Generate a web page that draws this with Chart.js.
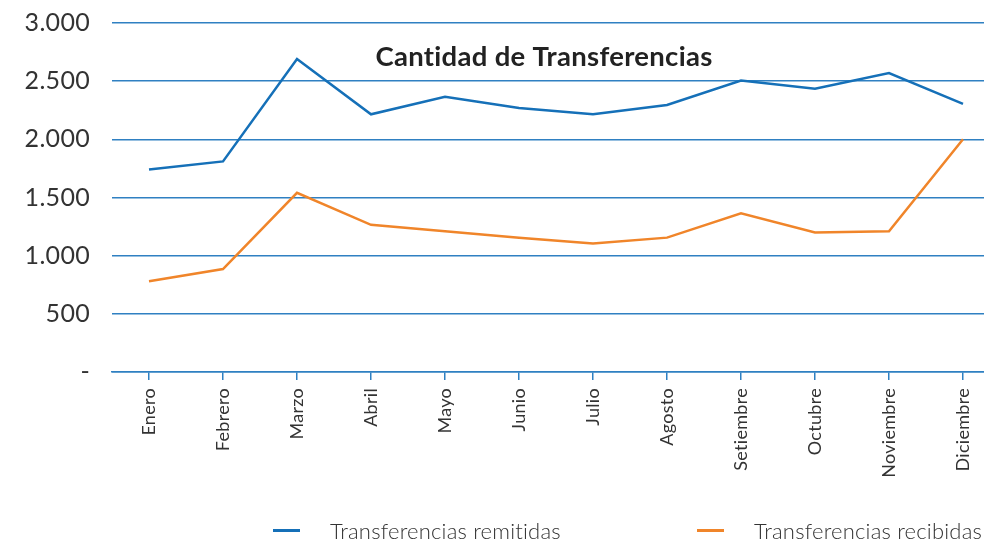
<!DOCTYPE html>
<html>
<head>
<meta charset="utf-8">
<script src="https://cdn.jsdelivr.net/npm/chart.js@4/dist/chart.umd.min.js"></script>
<style>
  html, body { margin: 0; padding: 0; background: #fff; overflow: hidden; }
  #wrap { position: relative; width: 1000px; height: 546px; }
  .legend { position: absolute; top: 517px; font: 300 22px Lato, sans-serif; color: #333; display: flex; align-items: center; font-variant-ligatures: none; letter-spacing: 0.2px; }
  .legend i { display: inline-block; width: 27px; height: 3px; margin-right: 30px; }
</style>
</head>
<body>
<div id="wrap">
  <canvas id="chart" width="1000" height="546"></canvas>
  <div class="legend" id="lg0" style="left:273px"></div>
  <div class="legend" id="lg1" style="left:697px"></div>
</div>
<script>
const TITLE = 'Cantidad de Transferencias'
const MONTHS = ['Enero', 'Febrero', 'Marzo', 'Abril', 'Mayo', 'Junio', 'Julio', 'Agosto', 'Setiembre', 'Octubre', 'Noviembre', 'Diciembre']
const SERIES_NAMES = ['Transferencias remitidas', 'Transferencias recibidas']
const remitidas = [1740, 1810, 2690, 2215, 2365, 2270, 2215, 2295, 2505, 2435, 2570, 2305]
const recibidas = [780, 885, 1540, 1265, 1210, 1155, 1105, 1155, 1365, 1200, 1210, 2000]
const Y_TICKS = [0, 500, 1000, 1500, 2000, 2500, 3000]
const Y_LABELS = ['-', '500', '1.000', '1.500', '2.000', '2.500', '3.000']
const COLORS = ['#1570b8', '#f0852a']
const GRID = '#2f80c2'

// title sits inside the plot area, so draw it by hand
// (letterSpacing also stops Lato from joining "ti")
const titlePlugin = {
  id: 'innerTitle',
  beforeDraw(chart) {
    chart.ctx.letterSpacing = '0.3px'
  },
  afterDraw(chart) {
    const ctx = chart.ctx
    ctx.save()
    ctx.font = 'bold 27.5px Lato, sans-serif'
    ctx.letterSpacing = '0.3px'
    ctx.fillStyle = '#222'
    ctx.textAlign = 'center'
    ctx.textBaseline = 'middle'
    ctx.fillText(TITLE, 544, 57)
    ctx.restore()
  }
}

new Chart(document.getElementById('chart'), {
  type: 'line',
  data: {
    labels: MONTHS,
    datasets: [
      { label: SERIES_NAMES[0], data: remitidas, borderColor: COLORS[0], borderWidth: 2.5, pointRadius: 0, tension: 0, fill: false },
      { label: SERIES_NAMES[1], data: recibidas, borderColor: COLORS[1], borderWidth: 2.5, pointRadius: 0, tension: 0, fill: false }
    ]
  },
  options: {
    responsive: false,
    animation: false,
    layout: { padding: { top: 23, right: 0, bottom: 0, left: 0 } },
    plugins: { legend: { display: false }, tooltip: { enabled: false } },
    scales: {
      x: {
        offset: true,
        afterFit: s => { s.height = 174 },
        grid: { offset: false, drawOnChartArea: false, color: GRID, tickLength: 8, lineWidth: 1.5 },
        border: { color: GRID, width: 1.5 },
        ticks: { maxRotation: 90, minRotation: 90, padding: 8, color: '#333', font: { family: 'Lato', size: 18, weight: '400' } }
      },
      y: {
        min: 0,
        max: 3000,
        afterFit: s => { s.width = 112; s.paddingTop = 0; s.paddingBottom = 0 },
        afterBuildTicks: s => { s.ticks = Y_TICKS.map(v => ({ value: v })) },
        grid: { color: GRID, lineWidth: 1.5, drawTicks: false },
        border: { display: false },
        ticks: {
          padding: 22,
          color: '#333',
          font: { family: 'Lato', size: 25, weight: '400' },
          callback: v => Y_LABELS[Y_TICKS.indexOf(v)]
        }
      }
    }
  },
  plugins: [titlePlugin]
})

SERIES_NAMES.forEach((name, i) => {
  document.getElementById('lg' + i).innerHTML = '<i style="background:' + COLORS[i] + '"></i>' + name
})
</script>
</body>
</html>
